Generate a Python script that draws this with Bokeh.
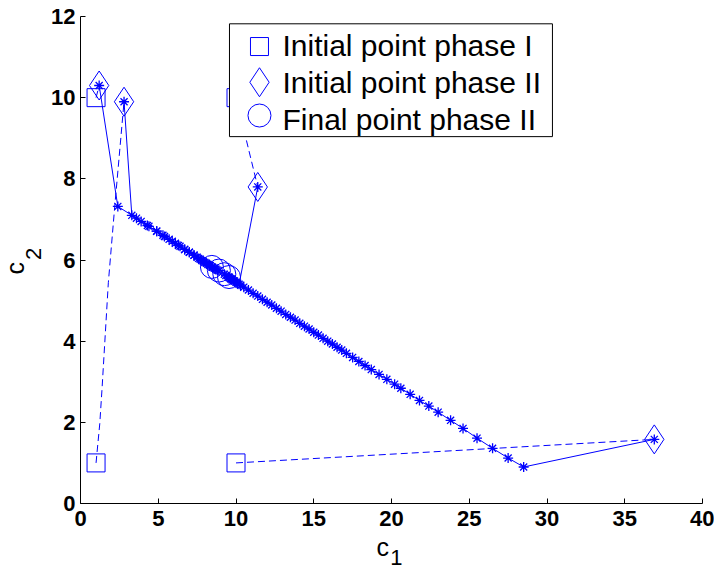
from bokeh.plotting import figure
from bokeh.models import Range1d, FixedTicker, BoxAnnotation, Label
from bokeh.embed import file_html
from bokeh.resources import INLINE

# ---------------- data ----------------
# Phase I: initial points (squares) and dashed paths to phase II start points
phase1_paths = [
    ([1.0, 1.2], [10.0, 10.3]),
    ([1.0, 1.24, 1.39, 1.79, 2.2, 2.8], [1.0, 1.97, 2.86, 5.44, 7.31, 9.9]),
    ([10.0, 36.9], [1.0, 1.58]),
    ([10.0, 11.4], [10.0, 7.8]),
]

# Phase II trajectories (solid lines with asterisks)
t1_x = [1.2, 2.4, 3.6, 4.3, 4.9, 5.4, 5.9, 6.3, 6.7, 7.0, 7.3, 7.6, 7.8, 8.0, 8.2, 8.35, 8.45]
t1_y = [10.3, 7.32, 7.03, 6.85, 6.71, 6.58, 6.46, 6.36, 6.26, 6.19, 6.12, 6.04, 5.99, 5.94, 5.89, 5.86, 5.83]

t2_x = [2.8, 3.3, 3.9, 4.4, 4.9, 5.3, 5.7, 6.1, 6.4, 6.7, 7.0, 7.3, 7.5, 7.7, 7.9, 8.1, 8.3, 8.5, 8.6, 8.7, 8.8, 8.9]
t2_y = [9.9, 7.1, 6.95, 6.83, 6.71, 6.61, 6.51, 6.41, 6.34, 6.26, 6.19, 6.12, 6.07, 6.02, 5.97, 5.92, 5.87, 5.82, 5.80, 5.77, 5.75, 5.74]

t3_x = [11.4, 10.2, 10.0, 9.85, 9.75, 9.65, 9.58, 9.55]
t3_y = [7.8, 5.40, 5.45, 5.49, 5.51, 5.54, 5.56, 5.58]

t4_x = [36.9, 28.5, 27.5, 26.5, 25.5, 24.6, 23.8, 23.0, 22.4, 21.8,
        21.2, 20.6, 20.2, 19.7, 19.2, 18.7, 18.3, 17.9, 17.5, 17.1,
        16.8, 16.5, 16.2, 15.9, 15.6, 15.3, 15.0, 14.7, 14.4, 14.1,
        13.8, 13.5, 13.2, 12.9, 12.6, 12.3, 12.0, 11.7, 11.4, 11.1,
        10.8, 10.5, 10.3, 10.1, 9.9, 9.7, 9.5, 9.35, 9.25]
t4_y = [1.58, 0.90, 1.12, 1.36, 1.61, 1.85, 2.05, 2.25, 2.40, 2.54,
        2.69, 2.84, 2.94, 3.06, 3.18, 3.30, 3.40, 3.50, 3.60, 3.70,
        3.78, 3.85, 3.93, 4.00, 4.07, 4.15, 4.22, 4.30, 4.37, 4.44,
        4.52, 4.59, 4.66, 4.74, 4.81, 4.89, 4.96, 5.03, 5.11, 5.18,
        5.26, 5.33, 5.38, 5.43, 5.48, 5.53, 5.58, 5.62, 5.65]

phase2_paths = [(t1_x, t1_y), (t2_x, t2_y), (t3_x, t3_y), (t4_x, t4_y)]

x_ticks = [0, 5, 10, 15, 20, 25, 30, 35, 40]
y_ticks = [0, 2, 4, 6, 8, 10, 12]
legend_labels = ["Initial point phase I", "Initial point phase II", "Final point phase II"]

BLUE = "#0000ff"
FONT = "Liberation Sans"

# ---------------- figure ----------------
p = figure(width=714, height=565,
           min_border_left=80, min_border_right=12, min_border_top=16, min_border_bottom=62,
           x_range=Range1d(0, 40), y_range=Range1d(0, 12),
           output_backend="svg", toolbar_location=None, tools="")
p.outline_line_color = None
p.xgrid.visible = False
p.ygrid.visible = False
p.background_fill_color = "white"
p.border_fill_color = "white"

for ax in (p.xaxis[0], p.yaxis[0]):
    ax.axis_line_color = "black"
    ax.axis_line_width = 1
    ax.major_tick_in = 5
    ax.major_tick_out = 0
    ax.minor_tick_line_color = None
    ax.major_tick_line_color = "black"
    ax.major_label_text_font = FONT
    ax.major_label_text_font_style = "bold"
    ax.major_label_text_font_size = "22px"
    ax.major_label_text_color = "black"
p.xaxis.ticker = FixedTicker(ticks=x_ticks)
p.yaxis.ticker = FixedTicker(ticks=y_ticks)
p.xaxis.major_label_standoff = 7
p.yaxis.major_label_standoff = 5

# phase I dashed paths
for xs, ys in phase1_paths:
    p.line(xs, ys, line_color=BLUE, line_width=1, line_dash="7 4")

# phase II solid paths with asterisks
for xs, ys in phase2_paths:
    p.line(xs, ys, line_color=BLUE, line_width=1)
    p.scatter(xs, ys, marker="asterisk", size=10, line_color=BLUE, line_width=1.3)

# markers
sq_x = [pth[0][0] for pth in phase1_paths]
sq_y = [pth[1][0] for pth in phase1_paths]
dia_x = [pth[0][0] for pth in phase2_paths]
dia_y = [pth[1][0] for pth in phase2_paths]
fin_x = [pth[0][-1] for pth in phase2_paths]
fin_y = [pth[1][-1] for pth in phase2_paths]

p.scatter(sq_x, sq_y, marker="square", size=18, line_color=BLUE, fill_color=None, line_width=1)
p.scatter(dia_x, dia_y, marker="diamond", size=29, line_color=BLUE, fill_color=None, line_width=1)
p.scatter(fin_x, fin_y, marker="circle", size=23, line_color=BLUE, fill_color=None, line_width=1)

# ---------------- legend (drawn by hand) ----------------
box = BoxAnnotation(left=9.58, right=30.35, bottom=9.04, top=11.82,
                    fill_color="white", fill_alpha=1.0,
                    line_color="black", line_width=1, line_alpha=1.0)
p.add_layout(box)

leg_marker_x = 11.51
leg_marker_y = [11.26, 10.38, 9.56]
leg_text_y = [11.28, 10.37, 9.47]
leg_markers = [("square", 18), ("diamond", 29), ("circle", 23)]
for (mk, sz), my in zip(leg_markers, leg_marker_y):
    p.scatter([leg_marker_x], [my], marker=mk, size=sz, line_color=BLUE,
              fill_color=None, line_width=1, level="overlay")
for lbl, ty in zip(legend_labels, leg_text_y):
    p.add_layout(Label(x=12.99, y=ty, text=lbl, text_font=FONT, text_font_size="30px",
                       text_color="black", text_baseline="alphabetic", text_align="left",
                       level="overlay"))

# ---------------- axis labels c_1 and c_2 (in side panels so they are not clipped) ----------------
xl_c = Label(x=19.04, y=-1.07, text="c", text_font=FONT, text_font_size="25px",
             text_baseline="alphabetic", text_align="left", text_color="black")
xl_1 = Label(x=19.92, y=-1.33, text="1", text_font=FONT, text_font_size="22px",
             text_baseline="alphabetic", text_align="left", text_color="black")
yl_c = Label(x=-4.2, y=5.64, text="c", angle=1.5708, text_font=FONT, text_font_size="25px",
             text_baseline="alphabetic", text_align="left", text_color="black")
yl_2 = Label(x=-3.0, y=6.0, text="2", angle=1.5708, text_font=FONT, text_font_size="22px",
             text_baseline="alphabetic", text_align="left", text_color="black")
p.add_layout(yl_c, "left")
p.add_layout(yl_2, "left")
p.add_layout(xl_c, "below")
p.add_layout(xl_1, "right")

open("out.html", "w").write(file_html(p, INLINE))
